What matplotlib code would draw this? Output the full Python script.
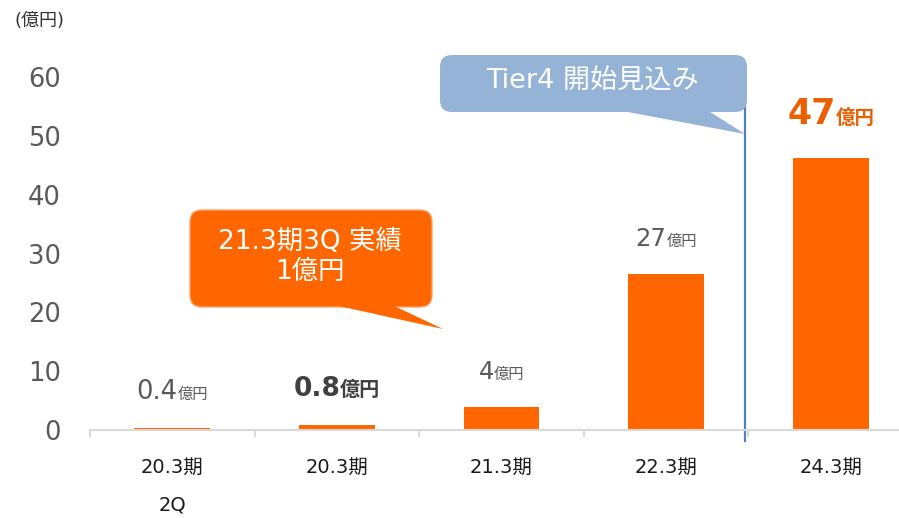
import matplotlib.pyplot as plt
from matplotlib.patches import FancyBboxPatch, Polygon
from matplotlib.offsetbox import TextArea, HPacker, AnnotationBbox
from matplotlib.transforms import Affine2D

plt.rcParams['font.family'] = ['DejaVu Sans', 'Noto Sans CJK JP']

categories = ["20.3期", "20.3期", "21.3期", "22.3期", "24.3期"]
sub_labels = ["2Q", "", "", "", ""]
values = [0.4, 0.8, 3.9, 26.5, 46.3]
value_text = ["0.4", "0.8", "4", "27", "47"]
unit = "億円"
yticks = [0, 10, 20, 30, 40, 50, 60]

BAR = "#FF6600"
GRAY = "#595959"

fig = plt.figure(figsize=(8.99, 5.18), dpi=100)
ax = fig.add_axes([90 / 899, 1 - 430 / 518, 1 - 90 / 899, 353 / 518])

x = list(range(len(categories)))
ax.bar(x, values, width=0.46, color=BAR, zorder=2)

ax.set_xlim(-0.5, 4.415)
ax.set_ylim(0, 60)
ax.set_yticks(yticks)
ax.tick_params(axis="y", length=0, pad=21, labelsize=18.5, labelcolor=GRAY)
ax.set_xticks(x)
ax.set_xticklabels(categories)
ax.tick_params(axis="x", which="major", length=0, pad=20, labelsize=14, labelcolor="#1a1a1a")
ax.set_xticks([-0.5, 0.5, 1.5, 2.5, 3.5], minor=True)
ax.tick_params(axis="x", which="minor", length=5, width=1.5, color="#d9d9d9")
for s in ["left", "top", "right"]:
    ax.spines[s].set_visible(False)
ax.spines["bottom"].set_color("#d9d9d9")
ax.spines["bottom"].set_linewidth(1.5)

for i, s in enumerate(sub_labels):
    if s:
        ax.text(i, -12.8, s, ha="center", va="center", fontsize=14, color="#1a1a1a", clip_on=False)

# value labels: big number + small unit
styles = [
    dict(size=18.5, unit_size=11, weight="normal", color=GRAY, off=16.5),
    dict(size=19, unit_size=14.5, weight="bold", color="#404040", off=16.5),
    dict(size=17.5, unit_size=11, weight="normal", color=GRAY, off=16.5),
    dict(size=17.5, unit_size=11, weight="normal", color=GRAY, off=16.5),
    dict(size=25, unit_size=14, weight="bold", color="#EB5F00", off=19.5),
]
for i, (v, t, st) in enumerate(zip(values, value_text, styles)):
    num = TextArea(t, textprops=dict(fontsize=st["size"], fontweight=st["weight"], color=st["color"]))
    un = TextArea(unit, textprops=dict(fontsize=st["unit_size"], fontweight=st["weight"], color=st["color"]))
    box = HPacker(children=[num, un], align="baseline", pad=0, sep=0)
    ab = AnnotationBbox(box, (i, v), xybox=(0, st["off"]), boxcoords="offset points",
                        box_alignment=(0.5, 0), frameon=False, annotation_clip=False)
    ax.add_artist(ab)

# Tier4 start marker line
ax.plot([3.48, 3.48], [-1.9, 55], color="#4F81BD", lw=1.6, clip_on=False, zorder=1)

# callouts in pixel coordinates (origin top-left)
px = Affine2D().scale(1 / 100, -1 / 100).translate(0, 5.18) + fig.dpi_scale_trans

def callout(x0, y0, x1, y1, tail, fc, ec):
    body = FancyBboxPatch((x0, y0), x1 - x0, y1 - y0, boxstyle="round,pad=0,rounding_size=12",
                          transform=px, fc=fc, ec=ec, lw=1, zorder=5)
    fig.add_artist(body)
    tri = Polygon(tail, closed=True, transform=px, fc=fc, ec="none", zorder=5)
    fig.add_artist(tri)

callout(190, 210, 432, 307, [(334, 305), (392, 305), (443, 329)], "#FF6600", "#F8A46C")
fig.text(310 / 899, 1 - 242 / 518, "21.3期3Q 実績", ha="center", va="center",
         fontsize=19, color="white", zorder=6)
fig.text(310 / 899, 1 - 272 / 518, "1億円", ha="center", va="center",
         fontsize=19, color="white", zorder=6)

callout(440, 55, 747, 112, [(617, 110), (707, 110), (745, 134)], "#95B3D7", "none")
fig.text(592 / 899, 1 - 81 / 518, "Tier4 開始見込み", ha="center", va="center",
         fontsize=19.5, color="white", zorder=6)

fig.text(40 / 899, 1 - 21 / 518, "(億円)", ha="center", va="center", fontsize=13, color="#333333")

fig.savefig("out.png", dpi=100)
